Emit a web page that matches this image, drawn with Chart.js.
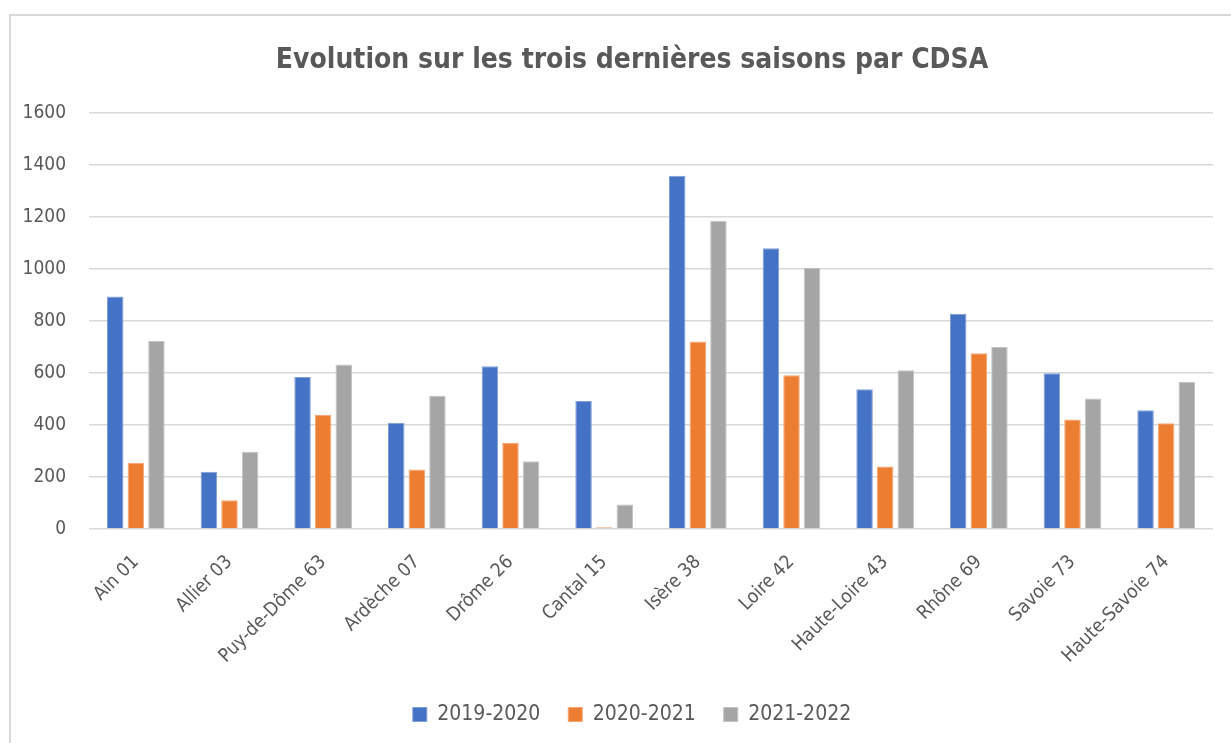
<!DOCTYPE html>
<html>
<head>
<meta charset="utf-8">
<script src="https://cdn.jsdelivr.net/npm/chart.js@4"></script>
<style>
  html, body { margin: 0; padding: 0; background: #fff; overflow: hidden; width: 1231px; height: 743px; }
  #frame { position: absolute; left: 9px; top: 14px; width: 1240px; height: 740px; border-left: 2px solid #d9d9d9; border-top: 2px solid #d9d9d9; }
  #wrap { position: absolute; left: 0; top: 0; width: 1264px; height: 743px; }
</style>
</head>
<body>
<div id="frame"></div>
<div id="wrap"><canvas id="c" width="1264" height="743"></canvas></div>
<script>
const categories = ["Ain 01", "Allier 03", "Puy-de-Dôme 63", "Ardèche 07", "Drôme 26", "Cantal 15", "Isère 38", "Loire 42", "Haute-Loire 43", "Rhône 69", "Savoie 73", "Haute-Savoie 74"];
const season2019 = [893, 220, 584, 408, 625, 492, 1357, 1079, 537, 827, 598, 456];
const season2020 = [254, 110, 438, 229, 331, 7, 720, 591, 240, 675, 421, 406];
const season2021 = [722, 297, 632, 512, 260, 94, 1184, 1004, 610, 699, 501, 565];
const seriesLabels = ["2019-2020", "2020-2021", "2021-2022"];
const yTicks = [0, 200, 400, 600, 800, 1000, 1200, 1400, 1600];

const FONT = "'Liberation Sans Narrow', 'DejaVu Sans Condensed', 'Roboto', sans-serif";
const GREY = "#595959";

new Chart(document.getElementById("c"), {
  type: "bar",
  data: {
    labels: categories,
    datasets: [
      { label: seriesLabels[0], data: season2019, backgroundColor: "#4472c4", borderColor: "#7f9fd8", borderWidth: 1 },
      { label: seriesLabels[1], data: season2020, backgroundColor: "#ed7d31", borderColor: "#f4a774", borderWidth: 1 },
      { label: seriesLabels[2], data: season2021, backgroundColor: "#a5a5a5", borderColor: "#c4c4c4", borderWidth: 1 }
    ]
  },
  options: {
    responsive: false,
    animation: false,
    layout: { padding: { left: 0, right: 0, top: 0, bottom: 8 } },
    datasets: { bar: { categoryPercentage: 0.66, barPercentage: 0.8 } },
    plugins: {
      title: {
        display: true,
        text: "Evolution sur les trois dernières saisons par CDSA",
        color: GREY,
        font: { family: FONT, size: 28, weight: "bold" },
        padding: { top: 44, bottom: 35 }
      },
      legend: {
        position: "bottom",
        labels: {
          color: GREY,
          font: { family: FONT, size: 21 },
          boxWidth: 14,
          boxHeight: 14,
          padding: 28
        }
      },
      tooltip: { enabled: false }
    },
    scales: {
      x: {
        grid: { display: false },
        border: { display: false },
        ticks: {
          color: GREY,
          font: { family: FONT, size: 19 },
          minRotation: 45,
          maxRotation: 45,
          padding: 14
        },
        afterFit: (s) => { s.height = 147; }
      },
      y: {
        min: 0,
        max: 1600,
        afterBuildTicks: (s) => { s.ticks = yTicks.map(v => ({ value: v })); },
        grid: { color: "#d9d9d9", lineWidth: 1.5, drawTicks: false },
        border: { display: false },
        ticks: {
          color: GREY,
          font: { family: FONT, size: 19 },
          padding: 23,
          callback: (v) => String(v)
        },
        afterFit: (s) => { s.width = 89; }
      },
      yRightSpacer: {
        type: "linear",
        position: "right",
        display: true,
        min: 0,
        max: 1600,
        grid: { display: false, drawTicks: false },
        border: { display: false },
        ticks: { display: false },
        afterFit: (s) => { s.width = 51; }
      }
    }
  }
});
</script>
</body>
</html>
